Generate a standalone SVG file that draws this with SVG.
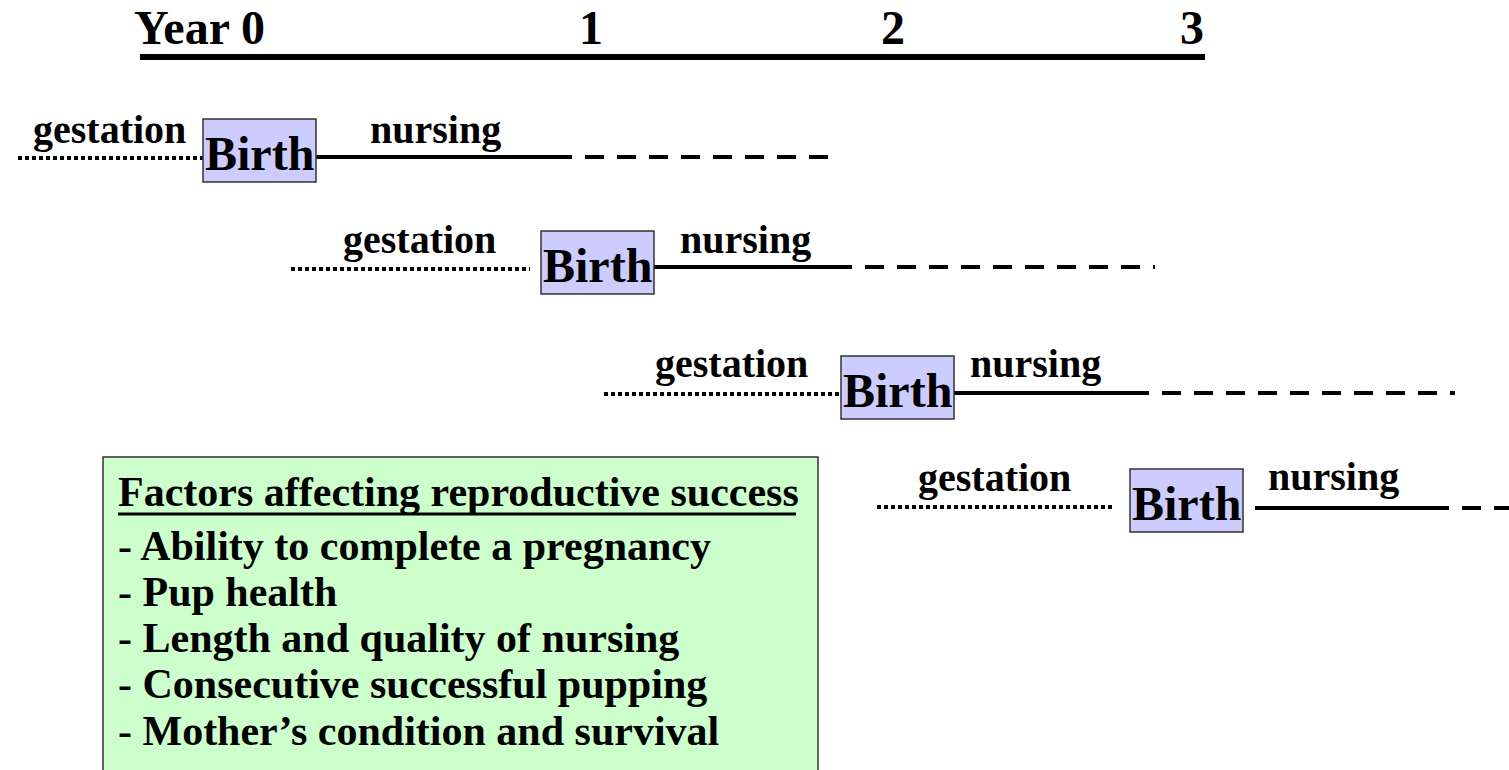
<svg xmlns="http://www.w3.org/2000/svg" width="1509" height="770" viewBox="0 0 1509 770">
<style>
text{font-family:"Liberation Serif","Times New Roman",serif;font-weight:bold;fill:#000}
.yr{font-size:48px}
.lbl{font-size:40px}
.birth{font-size:48px}
.fac{font-size:42px}
.bx{fill:#CCCCFF;stroke:#333;stroke-width:1.5}
.dot{stroke:#000;stroke-width:4;stroke-dasharray:4 3;fill:none}
.sol{stroke:#000;stroke-width:4;fill:none}
.dash{stroke:#000;stroke-width:4;stroke-dasharray:19 13;fill:none}
</style>
<rect width="1509" height="770" fill="#fff"/>
<g id="axis">
<line x1="140" y1="57" x2="1205" y2="57" stroke="#000" stroke-width="6"/>
<text class="yr" x="134" y="44">Year 0</text>
<text class="yr" x="591" y="44" text-anchor="middle">1</text>
<text class="yr" x="893" y="44" text-anchor="middle">2</text>
<text class="yr" x="1204" y="44" text-anchor="end">3</text>
</g>
<g id="connectors">
<line class="dot" x1="18" y1="158" x2="203" y2="158"/>
<line class="sol" x1="316" y1="157" x2="553" y2="157"/>
<line class="dash" x1="553" y1="157" x2="835" y2="157"/>
<line class="dot" x1="291" y1="269" x2="530" y2="269"/>
<line class="sol" x1="654" y1="267" x2="833" y2="267"/>
<line class="dash" x1="833" y1="267" x2="1155" y2="267"/>
<line class="dot" x1="604" y1="394" x2="841" y2="394"/>
<line class="sol" x1="954" y1="393" x2="1130" y2="393"/>
<line class="dash" x1="1130" y1="393" x2="1455" y2="393"/>
<line class="dot" x1="877" y1="507" x2="1115" y2="507"/>
<line class="sol" x1="1255" y1="508" x2="1430" y2="508"/>
<line class="dash" x1="1430" y1="508" x2="1509" y2="508"/>
</g>
<g id="row1">
<text class="lbl" x="33" y="143">gestation</text>
<rect class="bx" x="203" y="119" width="113" height="63"/>
<text class="birth" x="205" y="170">Birth</text>
<text class="lbl" x="370" y="143">nursing</text>
</g>
<g id="row2">
<text class="lbl" x="343" y="253">gestation</text>
<rect class="bx" x="541" y="231" width="113" height="63"/>
<text class="birth" x="543" y="282">Birth</text>
<text class="lbl" x="680" y="253">nursing</text>
</g>
<g id="row3">
<text class="lbl" x="655" y="377">gestation</text>
<rect class="bx" x="841" y="356" width="113" height="63"/>
<text class="birth" x="843" y="407">Birth</text>
<text class="lbl" x="970" y="377">nursing</text>
</g>
<g id="row4">
<text class="lbl" x="918" y="491">gestation</text>
<rect class="bx" x="1130" y="469" width="113" height="63"/>
<text class="birth" x="1132" y="520">Birth</text>
<text class="lbl" x="1268" y="490">nursing</text>
</g>
<g id="factors">
<rect x="103" y="457" width="715" height="320" fill="#CCFFCC" stroke="#333" stroke-width="1.5"/>
<text class="fac" x="118" y="506">Factors affecting reproductive success</text>
<line x1="118" y1="514" x2="796" y2="514" stroke="#000" stroke-width="3"/>
<text class="fac" x="118" y="560">- Ability to complete a pregnancy</text>
<text class="fac" x="118" y="606">- Pup health</text>
<text class="fac" x="118" y="652">- Length and quality of nursing</text>
<text class="fac" x="118" y="698">- Consecutive successful pupping</text>
<text class="fac" x="118" y="745">- Mother’s condition and survival</text>
</g>
</svg>
